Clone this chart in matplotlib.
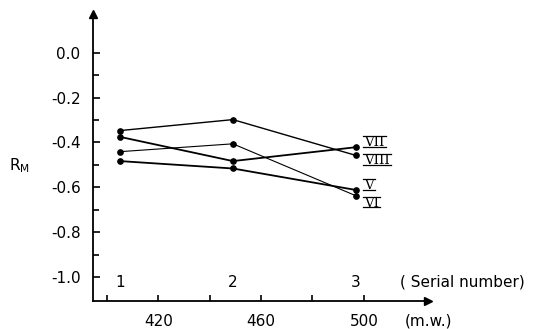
import matplotlib.pyplot as plt
from matplotlib.lines import Line2D
from matplotlib.ticker import FixedLocator, NullFormatter
from matplotlib.transforms import offset_copy

plt.rcParams['font.family'] = ['DejaVu Sans']
plt.rcParams['mathtext.default'] = 'regular'

# molecular weight of each compound (x position) and its serial number
mw = [405, 449, 497]
serial = ['1', '2', '3']

# R_M values, one series per solvent system
rm_VII = [-0.375, -0.483, -0.421]
rm_VIII = [-0.347, -0.298, -0.458]
rm_V = [-0.483, -0.516, -0.612]
rm_VI = [-0.441, -0.406, -0.638]

series = [
    ('VII', rm_VII, 1.3, (6, 0.6)),
    ('VIII', rm_VIII, 1.0, (6, -6.4)),
    ('V', rm_V, 1.3, (6, 0.6)),
    ('VI', rm_VI, 0.8, (6, -8.0)),
]

fig = plt.figure(figsize=(5.49, 3.29), dpi=100)
W, H = 549, 329
ax = fig.add_axes([93 / W, (H - 301) / H, (428 - 93) / W, (301 - 14) / H])

labels = []
for name, vals, lw, off in series:
    ax.plot(mw, vals, color='black', lw=lw, marker='o', ms=3.8)
    t = ax.annotate(name, (mw[-1], vals[-1]), xytext=off, textcoords='offset points',
                    ha='left', va='baseline', fontsize=9.5, family='DejaVu Serif')
    labels.append(t)

ax.set_xlim(394.5, 525)
ax.set_ylim(-1.107, 0.173)

for s in ['top', 'right']:
    ax.spines[s].set_visible(False)
for s in ['left', 'bottom']:
    ax.spines[s].set_linewidth(1.3)

# arrow heads on both axes
ax.plot(1, 0, '>', color='black', ms=6, transform=ax.transAxes, clip_on=False)
ax.plot(0, 1, '^', color='black', ms=6, transform=ax.transAxes, clip_on=False)

ax.set_yticks([0.0, -0.2, -0.4, -0.6, -0.8, -1.0])
ax.set_yticklabels(['0.0', '-0.2', '-0.4', '-0.6', '-0.8', '-1.0'])
ax.yaxis.set_minor_locator(FixedLocator([-0.1, -0.3, -0.5, -0.7, -0.9]))
ax.set_xticks([420, 460, 500])
ax.xaxis.set_minor_locator(FixedLocator([400, 440, 480]))
ax.xaxis.set_minor_formatter(NullFormatter())

ax.tick_params(axis='both', which='both', direction='in', labelsize=11, width=1.2)
ax.tick_params(axis='y', which='major', length=5, pad=9)
ax.tick_params(axis='y', which='minor', length=4)
ax.tick_params(axis='x', which='both', length=4, pad=9)

# serial numbers sit just above the x axis
xt = ax.get_xaxis_transform()
for x, s in zip(mw, serial):
    ax.text(x, 0.065, s, transform=xt, ha='center', va='center', fontsize=11)
ax.text((400 - 93) / 335, 0.065, '( Serial number)', transform=ax.transAxes,
        ha='left', va='center', fontsize=11)
ax.text((405 - 93) / 335, 0, '(m.w.)', ha='left', va='top', fontsize=11,
        transform=offset_copy(ax.transAxes, fig=fig, y=-12.5, units='dots'))

fig.text(9 / W, 1 - 166 / H, '$R_M$', fontsize=11, ha='left', va='center')

# bars above and below the roman numerals
fig.canvas.draw()
r = fig.canvas.get_renderer()
for t in labels:
    bb = t.get_window_extent(r)
    base = bb.y0 + (bb.y1 - bb.y0) * 0.235
    for yb in (base - 0.5, base + 10.0):
        fig.add_artist(Line2D([bb.x0 - 1, bb.x1 + 1], [yb, yb], transform=None,
                              color='black', lw=0.9))

fig.savefig('out.png', dpi=100)
